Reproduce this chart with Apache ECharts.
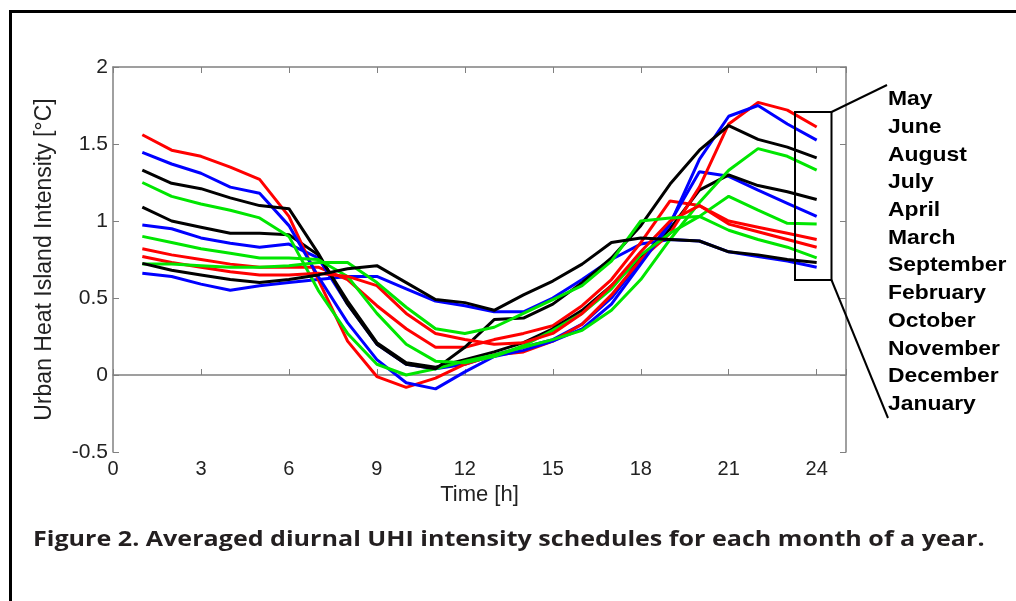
<!DOCTYPE html>
<html>
<head>
<meta charset="utf-8">
<script src="https://cdn.jsdelivr.net/npm/echarts@6/dist/echarts.min.js"></script>
<style>
html,body{margin:0;padding:0;background:#fff;}
#chart{width:1016px;height:601px;}
</style>
</head>
<body>
<div id="chart"></div>
<script>
// ---- data ----
const hours = [1,2,3,4,5,6,7,8,9,10,11,12,13,14,15,16,17,18,19,20,21,22,23,24];
const xTicks = [0,3,6,9,12,15,18,21,24];
const monthLabels = ['May','June','August','July','April','March','September','February','October','November','December','January'];

const may       = [1.56,1.46,1.42,1.35,1.27,1.03,0.62,0.22,-0.01,-0.08,-0.02,0.07,0.13,0.15,0.22,0.33,0.52,0.75,0.92,1.22,1.63,1.77,1.72,1.61];
const june      = [1.445,1.37,1.31,1.22,1.18,0.97,0.64,0.34,0.10,-0.05,-0.09,0.02,0.12,0.16,0.22,0.30,0.46,0.72,0.98,1.40,1.68,1.75,1.63,1.525];
const august    = [1.33,1.245,1.21,1.15,1.10,1.08,0.79,0.46,0.20,0.07,0.04,0.18,0.36,0.37,0.46,0.60,0.76,0.97,1.24,1.46,1.62,1.53,1.48,1.41];
const july      = [1.25,1.16,1.11,1.07,1.02,0.90,0.55,0.27,0.07,0.00,0.04,0.09,0.13,0.18,0.23,0.29,0.42,0.62,0.88,1.12,1.33,1.47,1.42,1.33];
const april     = [1.09,1.00,0.96,0.92,0.92,0.91,0.78,0.48,0.21,0.08,0.05,0.10,0.15,0.21,0.30,0.42,0.58,0.76,0.95,1.20,1.30,1.23,1.19,1.14];
const march     = [0.974,0.95,0.89,0.855,0.83,0.85,0.76,0.46,0.20,0.07,0.04,0.07,0.13,0.18,0.23,0.33,0.50,0.74,0.99,1.32,1.29,1.20,1.115,1.03];
const september = [0.90,0.86,0.82,0.79,0.76,0.76,0.75,0.64,0.40,0.20,0.09,0.08,0.12,0.19,0.29,0.40,0.56,0.78,0.92,1.03,1.16,1.07,0.985,0.98];
const february  = [0.82,0.78,0.75,0.72,0.70,0.70,0.70,0.62,0.45,0.30,0.18,0.18,0.23,0.27,0.32,0.45,0.62,0.86,1.13,1.10,1.00,0.96,0.92,0.88];
const october   = [0.77,0.73,0.70,0.67,0.65,0.65,0.66,0.64,0.58,0.40,0.27,0.23,0.20,0.21,0.27,0.40,0.58,0.80,1.00,1.10,0.98,0.93,0.88,0.83];
const november  = [0.72,0.72,0.71,0.70,0.70,0.71,0.73,0.73,0.60,0.44,0.30,0.27,0.31,0.40,0.49,0.58,0.74,1.00,1.02,1.03,0.94,0.88,0.83,0.76];
const december  = [0.725,0.68,0.65,0.62,0.60,0.62,0.65,0.69,0.71,0.60,0.49,0.47,0.42,0.52,0.61,0.72,0.86,0.89,0.88,0.87,0.80,0.78,0.75,0.73];
const january   = [0.66,0.64,0.59,0.55,0.58,0.60,0.62,0.64,0.64,0.56,0.48,0.45,0.41,0.41,0.50,0.62,0.75,0.85,0.88,0.87,0.80,0.77,0.74,0.70];

const seriesDefs = [
  {name:'January',   data:january,   color:'#0000ff'},
  {name:'February',  data:february,  color:'#ff0000'},
  {name:'March',     data:march,     color:'#0000ff'},
  {name:'April',     data:april,     color:'#000000'},
  {name:'May',       data:may,       color:'#ff0000'},
  {name:'June',      data:june,      color:'#0000ff'},
  {name:'July',      data:july,      color:'#00e600'},
  {name:'August',    data:august,    color:'#000000'},
  {name:'September', data:september, color:'#00e600'},
  {name:'October',   data:october,   color:'#ff0000'},
  {name:'November',  data:november,  color:'#00e600'},
  {name:'December',  data:december,  color:'#000000'}
];

const FONT = '"Liberation Sans", Arial, sans-serif';
const AXIS_GRAY = '#808080';

const chart = echarts.init(document.getElementById('chart'));

const series = seriesDefs.map(s => ({
  name: s.name,
  type: 'line',
  xAxisIndex: 0,
  yAxisIndex: 0,
  showSymbol: false,
  symbol: 'none',
  animation: false,
  lineStyle: {color: s.color, width: 3},
  itemStyle: {color: s.color},
  data: hours.map((h, i) => [h, s.data[i]])
}));

const legendTexts = monthLabels.map((m, i) => ({
  type: 'text',
  x: 888,
  y: 89 + i * 27.7,
  scaleX: 1.09,
  z: 100,
  style: {text: m, font: 'bold 21px ' + FONT, fill: '#000'}
}));

const option = {
  backgroundColor: '#fff',
  animation: false,
  grid: {left: 113, right: 170, top: 67, bottom: 149, containLabel: false},
  xAxis: [
    {
      type: 'value', position: 'bottom', min: 0, max: 25, interval: 3,
      name: 'Time [h]', nameLocation: 'middle', nameGap: 28,
      nameTextStyle: {fontFamily: FONT, fontSize: 22, color: '#222'},
      axisLine: {show: true, lineStyle: {color: AXIS_GRAY, width: 1.5}},
      axisTick: {show: true, inside: true, length: 6, lineStyle: {color: AXIS_GRAY}},
      axisLabel: {fontFamily: FONT, fontSize: 20, color: '#222', margin: 7,
        formatter: v => xTicks.indexOf(v) >= 0 ? String(v) : ''},
      splitLine: {show: false}
    },
    {
      type: 'value', position: 'top', min: 0, max: 25, interval: 3,
      axisLine: {show: true, onZero: false, lineStyle: {color: AXIS_GRAY, width: 1.5}},
      axisTick: {show: true, inside: true, length: 6, lineStyle: {color: AXIS_GRAY}},
      axisLabel: {show: false},
      splitLine: {show: false}
    }
  ],
  yAxis: [
    {
      type: 'value', position: 'left', min: -0.5, max: 2, interval: 0.5,
      name: 'Urban Heat Island Intensity [°C]', nameLocation: 'middle', nameGap: 57, nameRotate: 90,
      nameTextStyle: {fontFamily: FONT, fontSize: 23, color: '#222'},
      axisLine: {show: true, onZero: false, lineStyle: {color: AXIS_GRAY, width: 1.5}},
      axisTick: {show: true, inside: true, length: 6, lineStyle: {color: AXIS_GRAY}},
      axisLabel: {fontFamily: FONT, fontSize: 21, color: '#222', margin: 5},
      splitLine: {show: false}
    },
    {
      type: 'value', position: 'right', min: -0.5, max: 2, interval: 0.5,
      axisLine: {show: true, onZero: false, lineStyle: {color: AXIS_GRAY, width: 1.5}},
      axisTick: {show: true, inside: true, length: 6, lineStyle: {color: AXIS_GRAY}},
      axisLabel: {show: false},
      splitLine: {show: false}
    }
  ],
  series: series,
  graphic: [
    {type: 'rect', left: 8, top: 9, z: 100,
      shape: {x: 0, y: 0, width: 1100, height: 700},
      style: {fill: 'none', stroke: '#000', lineWidth: 3}},
    {type: 'rect', z: 100, shape: {x: 795, y: 112, width: 36.5, height: 168},
      style: {fill: 'none', stroke: '#000', lineWidth: 2}},
    {type: 'line', z: 100, shape: {x1: 831.5, y1: 112, x2: 887, y2: 85},
      style: {stroke: '#000', lineWidth: 2}},
    {type: 'line', z: 100, shape: {x1: 831.5, y1: 280, x2: 888, y2: 418},
      style: {stroke: '#000', lineWidth: 2}},
    ...legendTexts,
    {type: 'text', x: 33, y: 529, scaleX: 1.14, z: 100,
      style: {text: 'Figure 2. Averaged diurnal UHI intensity schedules for each month of a year.',
        font: 'bold 22px "Open Sans", sans-serif', fill: '#231f20'}}
  ]
};
chart.setOption(option);
</script>
</body>
</html>
